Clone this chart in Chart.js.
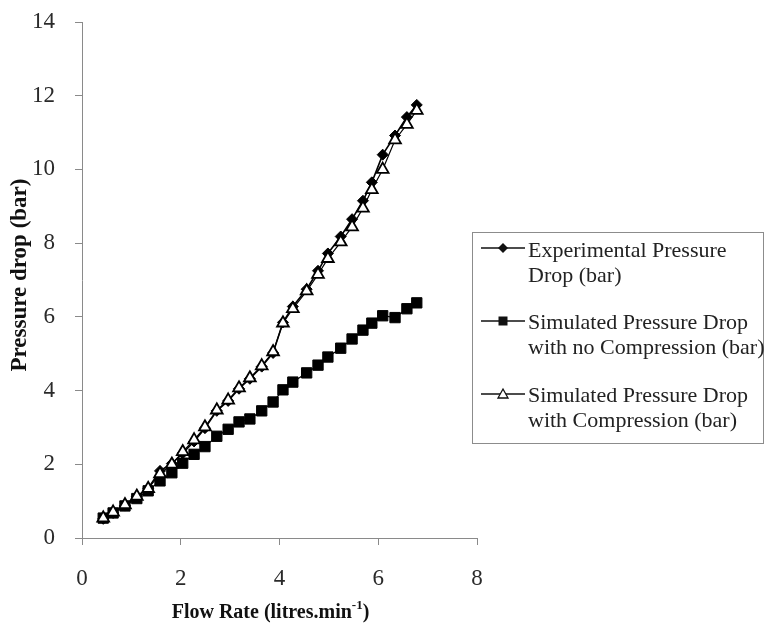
<!DOCTYPE html>
<html>
<head>
<meta charset="utf-8">
<script src="https://cdn.jsdelivr.net/npm/chart.js@4.4.1/dist/chart.umd.min.js"></script>
<style>
  html, body { margin: 0; padding: 0; background: #ffffff; }
  #wrap { position: relative; width: 764px; height: 624px; }
</style>
</head>
<body>
<div id="wrap"><canvas id="chart"></canvas></div>
<script>
// Flow rate (litres/min) at each measurement
const flowRate = [0.43, 0.63, 0.87, 1.11, 1.34, 1.58, 1.82, 2.04, 2.27, 2.49,
                  2.73, 2.96, 3.18, 3.40, 3.64, 3.87, 4.07, 4.27, 4.55, 4.78,
                  4.98, 5.24, 5.47, 5.69, 5.87, 6.09, 6.34, 6.58, 6.78];

// Pressure drop (bar)
const experimental = [0.52, 0.68, 0.88, 1.12, 1.35, 1.82, 2.02, 2.30, 2.62, 2.98,
                      3.45, 3.72, 4.05, 4.32, 4.65, 5.02, 5.85, 6.28, 6.75, 7.25,
                      7.72, 8.18, 8.65, 9.15, 9.65, 10.40, 10.92, 11.42, 11.75];
const simNoCompression = [0.54, 0.68, 0.87, 1.07, 1.28, 1.55, 1.77, 2.03, 2.27, 2.48,
                          2.76, 2.95, 3.15, 3.23, 3.45, 3.69, 4.02, 4.23, 4.48, 4.69,
                          4.91, 5.15, 5.40, 5.64, 5.83, 6.03, 5.98, 6.22, 6.38];
const simCompression = [0.54, 0.70, 0.90, 1.13, 1.34, 1.74, 2.00, 2.34, 2.66, 3.01,
                        3.47, 3.74, 4.07, 4.34, 4.67, 5.05, 5.83, 6.22, 6.70, 7.15,
                        7.58, 8.03, 8.44, 8.95, 9.45, 10.00, 10.80, 11.22, 11.60];

const seriesLabels = [
  ['Experimental Pressure', 'Drop (bar)'],
  ['Simulated Pressure Drop', 'with no Compression (bar)'],
  ['Simulated Pressure Drop', 'with Compression (bar)']
];
const xTitleMain = 'Flow Rate (litres.min';
const xTitleSup = '-1';
const xTitleEnd = ')';
const yTitle = 'Pressure drop (bar)';
const xStep = 2, xMax = 8;
const yStep = 2, yMax = 14;

const SERIF = '"Liberation Serif", "Times New Roman", serif';
const AXIS_GREY = '#8a8a8a';

function points(ys) {
  return flowRate.map((x, i) => ({ x: x, y: ys[i] }));
}

// Axis titles (the x title carries a superscript exponent)
const axisTitles = {
  id: 'axisTitles',
  afterDraw(chart) {
    const ctx = chart.ctx;
    const area = chart.chartArea;
    ctx.save();
    ctx.fillStyle = '#111';
    ctx.textBaseline = 'alphabetic';

    const big = 'bold 20px ' + SERIF;
    const small = 'bold 13px ' + SERIF;
    ctx.font = big;
    const w1 = ctx.measureText(xTitleMain).width;
    const w3 = ctx.measureText(xTitleEnd).width;
    ctx.font = small;
    const w2 = ctx.measureText(xTitleSup).width;
    const total = w1 + w2 + w3;
    const x = (area.left + area.right) / 2 - 9 - total / 2;
    const base = 618;
    ctx.textAlign = 'left';
    ctx.font = big;
    ctx.fillText(xTitleMain, x, base);
    ctx.font = small;
    ctx.fillText(xTitleSup, x + w1, base - 9);
    ctx.font = big;
    ctx.fillText(xTitleEnd, x + w1 + w2, base);

    ctx.translate(20, (area.top + area.bottom) / 2 - 5);
    ctx.rotate(-Math.PI / 2);
    ctx.textAlign = 'center';
    ctx.textBaseline = 'middle';
    ctx.font = 'bold 23px ' + SERIF;
    ctx.fillText(yTitle, 0, 0);
    ctx.restore();
  }
};

// Boxed legend on the right: a short line with the series marker, then two text lines
const boxLegend = {
  id: 'boxLegend',
  afterDraw(chart) {
    const ctx = chart.ctx;
    ctx.save();
    ctx.strokeStyle = '#8c8c8c';
    ctx.lineWidth = 1;
    ctx.strokeRect(472.5, 232.5, 291, 211);

    const rows = [
      { y: 248, lines: [251, 276], marker: 'diamond' },
      { y: 321, lines: [323, 348], marker: 'square' },
      { y: 394, lines: [396, 421], marker: 'triangle' }
    ];
    rows.forEach((row, i) => {
      ctx.strokeStyle = '#111';
      ctx.lineWidth = 1.4;
      ctx.beginPath();
      ctx.moveTo(481, row.y);
      ctx.lineTo(525, row.y);
      ctx.stroke();

      const cx = 503, cy = row.y;
      ctx.beginPath();
      if (row.marker === 'diamond') {
        ctx.moveTo(cx, cy - 5); ctx.lineTo(cx + 5, cy); ctx.lineTo(cx, cy + 5); ctx.lineTo(cx - 5, cy);
        ctx.closePath(); ctx.fillStyle = '#111'; ctx.fill();
      } else if (row.marker === 'square') {
        ctx.rect(cx - 4.5, cy - 4.5, 9, 9); ctx.fillStyle = '#111'; ctx.fill();
      } else {
        ctx.moveTo(cx, cy - 5); ctx.lineTo(cx + 5, cy + 4); ctx.lineTo(cx - 5, cy + 4);
        ctx.closePath(); ctx.fillStyle = '#fff'; ctx.fill(); ctx.lineWidth = 1.3; ctx.stroke();
      }

      ctx.fillStyle = '#222';
      ctx.font = '22px ' + SERIF;
      ctx.textAlign = 'left';
      ctx.textBaseline = 'middle';
      seriesLabels[i].forEach((t, k) => ctx.fillText(t, 528, row.lines[k]));
    });
    ctx.restore();
  }
};

new Chart(document.getElementById('chart'), {
  type: 'scatter',
  data: {
    datasets: [
      {
        label: seriesLabels[0].join(' '),
        data: points(experimental),
        showLine: true,
        borderColor: '#000',
        borderWidth: 1.6,
        pointStyle: 'rectRot',
        pointRadius: 5.5,
        pointBackgroundColor: '#000',
        pointBorderColor: '#000',
        pointBorderWidth: 1,
        order: 2
      },
      {
        label: seriesLabels[1].join(' '),
        data: points(simNoCompression),
        showLine: true,
        borderColor: '#000',
        borderWidth: 1.2,
        pointStyle: 'rect',
        pointRadius: 7.3,
        pointBackgroundColor: '#000',
        pointBorderColor: '#000',
        pointBorderWidth: 1,
        order: 1
      },
      {
        label: seriesLabels[2].join(' '),
        data: points(simCompression),
        showLine: true,
        borderColor: '#000',
        borderWidth: 1.2,
        pointStyle: 'triangle',
        pointRadius: 6.8,
        pointBackgroundColor: '#fff',
        pointBorderColor: '#000',
        pointBorderWidth: 1.8,
        order: 0
      }
    ]
  },
  options: {
    responsive: true,
    maintainAspectRatio: false,
    animation: false,
    layout: { padding: { top: 22, right: 287, bottom: 0, left: 0 } },
    plugins: {
      legend: { display: false },
      tooltip: { enabled: false }
    },
    scales: {
      x: {
        type: 'linear',
        min: 0,
        max: xMax,
        afterFit(scale) { scale.height = 86; },
        ticks: {
          stepSize: xStep,
          color: '#2a2a2a',
          padding: 20,
          font: { family: SERIF, size: 23 }
        },
        grid: { drawOnChartArea: false, drawTicks: true, tickLength: 7, color: AXIS_GREY },
        border: { display: true, color: AXIS_GREY, width: 1 },
        title: { display: false }
      },
      y: {
        type: 'linear',
        min: 0,
        max: yMax,
        afterFit(scale) {
          scale.width = 82;
          scale.paddingTop = 0;
          scale.paddingBottom = 0;
        },
        ticks: {
          stepSize: yStep,
          color: '#2a2a2a',
          padding: 20,
          font: { family: SERIF, size: 23 }
        },
        grid: { drawOnChartArea: false, drawTicks: true, tickLength: 7, color: AXIS_GREY },
        border: { display: true, color: AXIS_GREY, width: 1 },
        title: { display: false }
      }
    }
  },
  plugins: [axisTitles, boxLegend]
});
</script>
</body>
</html>
